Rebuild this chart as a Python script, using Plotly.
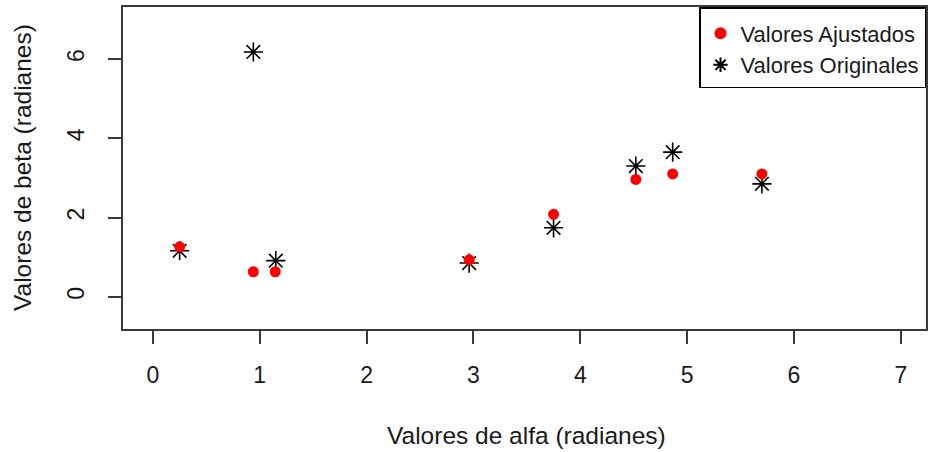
import plotly.graph_objects as go

# Data
alfa_orig = [0.25, 0.94, 1.15, 2.96, 3.75, 4.52, 4.865, 5.70]
beta_orig = [1.16, 6.18, 0.91, 0.85, 1.74, 3.30, 3.65, 2.85]
alfa_adj = [0.25, 0.94, 1.145, 2.96, 3.75, 4.52, 4.865, 5.70]
beta_adj = [1.26, 0.63, 0.63, 0.93, 2.08, 2.96, 3.10, 3.10]

x_ticks = [0, 1, 2, 3, 4, 5, 6, 7]
y_ticks = [0, 2, 4, 6]

FONT = "Liberation Sans, Arial, sans-serif"
AX = "#3a3a3a"
TXT = "#1a1a1a"

fig = go.Figure()
fig.add_trace(go.Scatter(
    x=alfa_orig, y=beta_orig, mode="markers", name="Valores Originales",
    marker=dict(symbol="asterisk-open", size=16, color="black",
                line=dict(color="black", width=1.6)),
    legendrank=2,
))
fig.add_trace(go.Scatter(
    x=alfa_adj, y=beta_adj, mode="markers", name="Valores Ajustados",
    marker=dict(symbol="circle", size=11, color="#ff0000",
                line=dict(width=0)),
    legendrank=1,
))

fig.update_layout(
    width=928, height=452,
    margin=dict(l=123, r=0, t=7, b=123),
    paper_bgcolor="white", plot_bgcolor="white",
    font=dict(family=FONT, size=23, color=TXT),
    showlegend=True,
    legend=dict(
        x=1, y=1, xanchor="right", yanchor="top",
        bgcolor="white", bordercolor="black", borderwidth=1.5,
        font=dict(family=FONT, size=22, color=TXT),
        itemsizing="constant",
        title=dict(text=" ", font=dict(size=3)),
    ),
)

fig.update_xaxes(
    range=[-0.28, 7.236], tickvals=x_ticks, ticktext=[str(v) for v in x_ticks],
    showgrid=False, zeroline=False,
    showline=True, linecolor=AX, linewidth=2, mirror=True,
    ticks="outside", ticklen=13, tickwidth=1.5, tickcolor=AX,
    tickfont=dict(size=23, color=TXT), ticklabelstandoff=11,
)
fig.update_yaxes(
    range=[-0.816, 7.316], tickvals=y_ticks, ticktext=[str(v) for v in y_ticks],
    showgrid=False, zeroline=False,
    showline=True, linecolor=AX, linewidth=2, mirror=True,
    ticks="outside", ticklen=13, tickwidth=1.5, tickcolor=AX,
    tickangle=-90,
    tickfont=dict(size=23, color=TXT), ticklabelstandoff=15,
)

fig.add_annotation(
    text="Valores de alfa (radianes)", xref="x", yref="paper",
    x=3.5, y=0, yanchor="middle", xanchor="center", yshift=-106,
    showarrow=False, font=dict(family=FONT, size=24.5, color=TXT),
)
fig.add_annotation(
    text="Valores de beta (radianes)", xref="paper", yref="y",
    x=0, y=3.25, xanchor="center", yanchor="middle", xshift=-101,
    textangle=-90, showarrow=False,
    font=dict(family=FONT, size=24.5, color=TXT),
)

fig.write_html("out.html")
